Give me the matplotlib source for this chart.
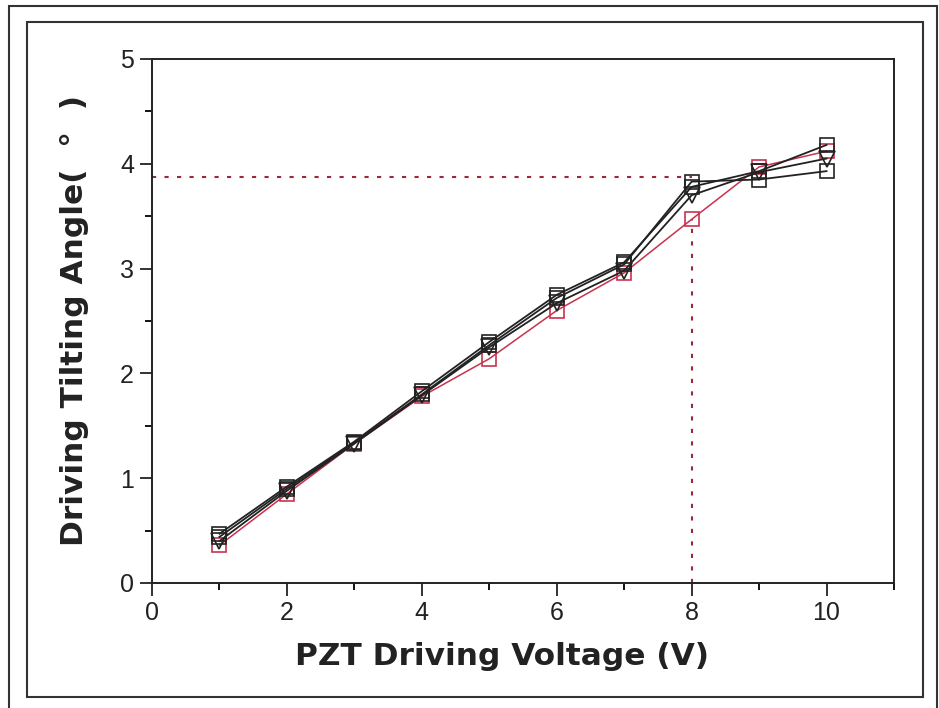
import numpy as np
import matplotlib
matplotlib.use('Agg')
import matplotlib.pyplot as plt
from matplotlib.patches import Rectangle
from matplotlib.ticker import MultipleLocator

# data
voltage = [1, 2, 3, 4, 5, 6, 7, 8, 9, 10]
angle_sq1 = [0.47, 0.92, 1.35, 1.83, 2.30, 2.75, 3.06, 3.78, 3.93, 4.18]
angle_sq2 = [0.44, 0.90, 1.34, 1.80, 2.27, 2.72, 3.04, 3.83, 3.85, 3.93]
angle_tri = [0.40, 0.88, 1.33, 1.79, 2.25, 2.67, 2.98, 3.70, 3.92, 4.05]
angle_red = [0.36, 0.85, 1.33, 1.78, 2.14, 2.60, 2.96, 3.47, 3.97, 4.12]
mark_v = 8
mark_angle = 3.87

plt.rcParams['font.family'] = ['Liberation Sans', 'DejaVu Sans']

W, H = 939, 708
fig = plt.figure(figsize=(W / 100, H / 100), dpi=100)
ax = fig.add_axes([152 / W, 1 - 583 / H, (894 - 152) / W, (583 - 59) / H])

red = '#c8324e'
ax.plot([0, mark_v], [mark_angle, mark_angle], ls=(0, (2, 4)), color='#9a2a3a', lw=1.5)
ax.plot([mark_v, mark_v], [0, angle_red[7]], ls=(0, (2, 4)), color='#9a2a3a', lw=1.5)

ax.plot(voltage, angle_red, color=red, marker='s', mfc='none', mec=red, ms=10, lw=1.1, mew=1.2)
ax.plot(voltage, angle_sq2, color='#222222', marker='s', mfc='none', mec='#222222', ms=10, lw=1.3, mew=1.2)
ax.plot(voltage, angle_sq1, color='#222222', marker='s', mfc='none', mec='#222222', ms=10, lw=1.3, mew=1.2)
ax.plot(voltage, angle_tri, color='#222222', marker='v', mfc='none', mec='#222222', ms=11, lw=1.3, mew=1.2)

ax.set_xlim(0, 11)
ax.set_ylim(0, 5)
ax.xaxis.set_major_locator(MultipleLocator(2))
ax.xaxis.set_minor_locator(MultipleLocator(1))
ax.yaxis.set_major_locator(MultipleLocator(1))
ax.yaxis.set_minor_locator(MultipleLocator(0.5))
ax.xaxis.set_major_formatter(lambda v, p: '%d' % v if v <= 10 else '')
ax.tick_params(which='major', direction='out', length=9, width=1.3, labelsize=18, colors='#222222', pad=4)
ax.tick_params(which='minor', direction='out', length=5, width=1.3)
for s in ax.spines.values():
    s.set_linewidth(1.4)
    s.set_color('#222222')

ax.set_xlabel('PZT Driving Voltage (V)', fontsize=22.5, fontweight='bold', color='#222222',
              family='DejaVu Sans', labelpad=12)
ax.xaxis.label.set_x(0.472)
ax.set_ylabel('Driving Tilting Angle(  \u00b0  )', fontsize=22.5, fontweight='bold', color='#222222',
              family='DejaVu Sans', labelpad=22)

# the two frames round the chart
fig.add_artist(Rectangle((9 / W, -0.05), (937 - 9) / W, 1.05 - 6 / H, transform=fig.transFigure,
                         fill=False, ec='#333333', lw=1.5))
fig.add_artist(Rectangle((27 / W, 1 - 697 / H), (923 - 27) / W, (697 - 22) / H, transform=fig.transFigure,
                         fill=False, ec='#333333', lw=1.5))

fig.savefig('out.png', dpi=100)
